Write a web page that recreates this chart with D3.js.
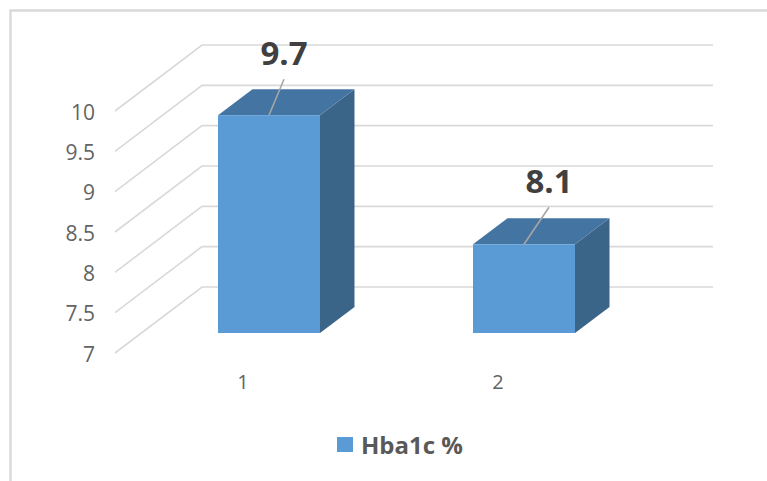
<!DOCTYPE html>
<html>
<head>
<meta charset="utf-8">
<script src="https://cdn.jsdelivr.net/npm/d3@7/dist/d3.min.js"></script>
<style>
  html, body { margin: 0; padding: 0; background: #fff; }
  svg { display: block; }
  text { font-family: "Open Sans", "Noto Sans", sans-serif; }
</style>
</head>
<body>
<svg id="chart" width="767" height="481"></svg>
<script>
const categories = ["1", "2"];
const values = [9.7, 8.1];
const yTicks = [7, 7.5, 8, 8.5, 9, 9.5, 10];
const yTickLabels = ["7", "7.5", "8", "8.5", "9", "9.5", "10"];
const seriesName = "Hba1c %";

const svg = d3.select("#chart");

// Front edge of the floor and the oblique depth of the 3D box
const y = d3.scaleLinear().domain([7, 10]).range([353, 111]);
const x = d3.scaleBand().domain(categories).range([141.5, 651.5])
  .paddingInner(0.6).paddingOuter(0.3);
const wallDepth = { dx: 87, dy: -66 };
const wallRight = 713;
const barInset = { dx: 26, dy: -20 };
const barDepth = { dx: 34.5, dy: -26 };

// Chart frame, running off the right and bottom of the page
svg.append("path")
  .attr("d", "M10.5,481V10.5H767")
  .attr("fill", "none").attr("stroke", "#d9d9d9").attr("stroke-width", 2.4);

// Side wall and back wall gridlines
svg.append("g").selectAll("path").data(yTicks).join("path")
  .attr("d", d => {
    const line = d3.path();
    line.moveTo(115, y(d));
    line.lineTo(115 + wallDepth.dx, y(d) + wallDepth.dy);
    line.lineTo(wallRight, y(d) + wallDepth.dy);
    return line.toString();
  })
  .attr("fill", "none").attr("stroke", "#d9d9d9").attr("stroke-width", 1.6);

// Value axis labels
const yAxis = svg.append("g").attr("transform", "translate(102,1)")
  .call(d3.axisLeft(y).tickValues(yTicks)
    .tickFormat((d, i) => yTickLabels[i]).tickSize(0).tickPadding(7));
yAxis.select(".domain").remove();
yAxis.selectAll("text").attr("font-size", 21).attr("fill", "#636363")
  .style("font-family", "'Open Sans', sans-serif").attr("dy", "0.34em");

// Category axis labels
const xAxis = svg.append("g").attr("transform", "translate(-26,375)")
  .call(d3.axisBottom(x).tickSize(0).tickPadding(0));
xAxis.select(".domain").remove();
xAxis.selectAll("text").attr("font-size", 20).attr("fill", "#636363")
  .style("font-family", "'Open Sans', sans-serif").attr("dy", "0.71em");

// Bars as three visible faces of a box
const floorY = y(7) + barInset.dy;
const barTop = v => y(v) + barInset.dy;
const bars = svg.append("g").selectAll("g")
  .data(categories.map((c, i) => ({ c, v: values[i] }))).join("g");

bars.append("path").attr("fill", "#3a6488")
  .attr("d", d => {
    const r = x(d.c) + x.bandwidth();
    return `M${r},${barTop(d.v)}L${r + barDepth.dx},${barTop(d.v) + barDepth.dy}` +
      `L${r + barDepth.dx},${floorY + barDepth.dy}L${r},${floorY}Z`;
  });
bars.append("path").attr("fill", "#4475a2")
  .attr("d", d => {
    const l = x(d.c), r = l + x.bandwidth(), t = barTop(d.v);
    return `M${l},${t}L${l + barDepth.dx},${t + barDepth.dy}` +
      `L${r + barDepth.dx},${t + barDepth.dy}L${r},${t}Z`;
  });
bars.append("rect").attr("fill", "#5b9bd5")
  .attr("x", d => x(d.c)).attr("y", d => barTop(d.v))
  .attr("width", x.bandwidth()).attr("height", d => floorY - barTop(d.v));

// Data labels with leader lines
const leaderEnd = [{ dx: 15, dy: -36 }, { dx: 25, dy: -37 }];
bars.append("line")
  .attr("x1", d => x(d.c) + x.bandwidth() / 2)
  .attr("y1", d => barTop(d.v))
  .attr("x2", (d, i) => x(d.c) + x.bandwidth() / 2 + leaderEnd[i].dx)
  .attr("y2", (d, i) => barTop(d.v) + leaderEnd[i].dy)
  .attr("stroke", "#a6a6a6").attr("stroke-width", 1.6);
bars.append("text")
  .attr("x", (d, i) => x(d.c) + x.bandwidth() / 2 + leaderEnd[i].dx)
  .attr("y", (d, i) => barTop(d.v) + leaderEnd[i].dy - 14)
  .attr("text-anchor", "middle").attr("font-size", 33).attr("font-weight", 700)
  .attr("fill", "#404040").text(d => d.v.toFixed(1));

// Legend
const legend = svg.append("g");
legend.append("rect").attr("x", 337).attr("y", 437).attr("width", 16).attr("height", 15)
  .attr("fill", "#5b9bd5");
legend.append("text").attr("x", 361).attr("y", 454)
  .attr("font-size", 24).attr("font-weight", 700).attr("fill", "#595959").text(seriesName);
</script>
</body>
</html>
